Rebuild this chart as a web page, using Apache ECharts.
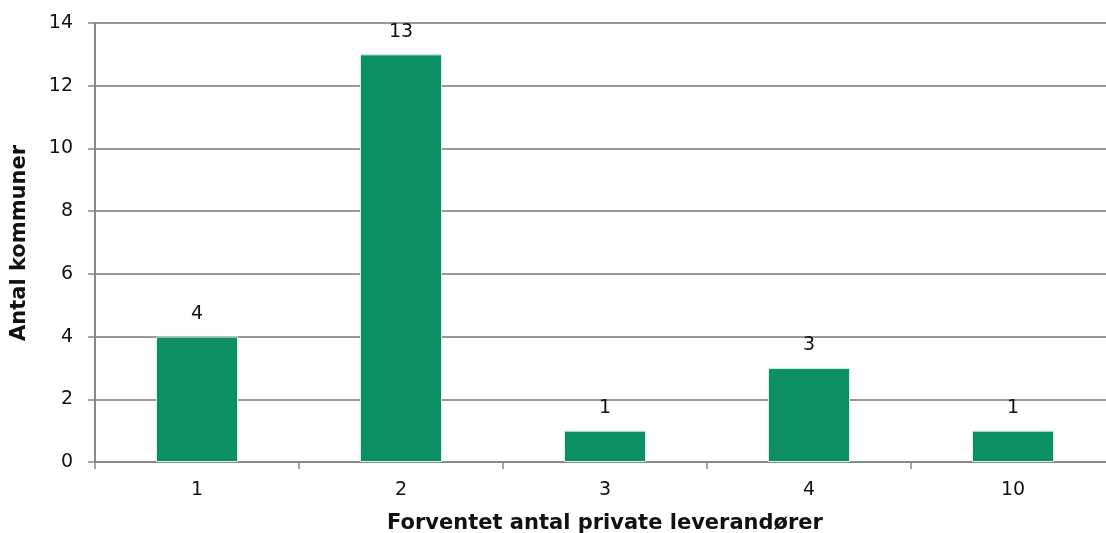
<!DOCTYPE html>
<html>
<head>
<meta charset="utf-8">
<script src="https://cdn.jsdelivr.net/npm/echarts@6/dist/echarts.min.js"></script>
<style>html,body{margin:0;padding:0;background:#fff;overflow:hidden}#c{width:1115px;height:533px}</style>
</head>
<body>
<div id="c"></div>
<script>
const categories = ["1", "2", "3", "4", "10"];
const values = [4, 13, 1, 3, 1];
const yTicks = [0, 2, 4, 6, 8, 10, 12, 14];
const xTitle = "Forventet antal private leverandører";
const yTitle = "Antal kommuner";

const chart = echarts.init(document.getElementById('c'), null, {renderer: 'canvas'});
const font = '"DejaVu Sans", Verdana, sans-serif';
chart.setOption({
  animation: false,
  grid: {left: 95, right: 0, top: 23, height: 439, containLabel: false},
  xAxis: {
    type: 'category',
    data: categories,
    axisLine: {lineStyle: {color: '#888', width: 2}},
    axisTick: {show: true, length: 7, lineStyle: {color: '#888', width: 1.5}},
    axisLabel: {color: '#111', fontSize: 19, fontFamily: font, margin: 19}
  },
  yAxis: {
    type: 'value',
    min: 0, max: 14, interval: 2,
    axisLine: {show: true, lineStyle: {color: '#888', width: 2}},
    axisTick: {show: true, length: 7, lineStyle: {color: '#888', width: 1.5}},
    splitLine: {lineStyle: {color: '#999', width: 2}},
    axisLabel: {color: '#111', fontSize: 19, fontFamily: font, margin: 22,
      formatter: v => yTicks.includes(v) ? String(v) : ''}
  },
  graphic: [
    {type: 'text', x: 20, y: 243, rotation: Math.PI / 2,
      style: {text: yTitle, font: 'bold 21px ' + font, fill: '#111', align: 'center', verticalAlign: 'middle'}},
    {type: 'text', x: 605, y: 524,
      style: {text: xTitle, font: 'bold 21px ' + font, fill: '#111', align: 'center', verticalAlign: 'middle'}}
  ],
  series: [{
    type: 'bar',
    data: values,
    barWidth: 82,
    itemStyle: {color: '#0b8f63', borderColor: '#d8eee5', borderWidth: 1},
    label: {show: true, position: 'top', distance: 13, color: '#111', fontSize: 19, fontFamily: font}
  }]
});
</script>
</body>
</html>
